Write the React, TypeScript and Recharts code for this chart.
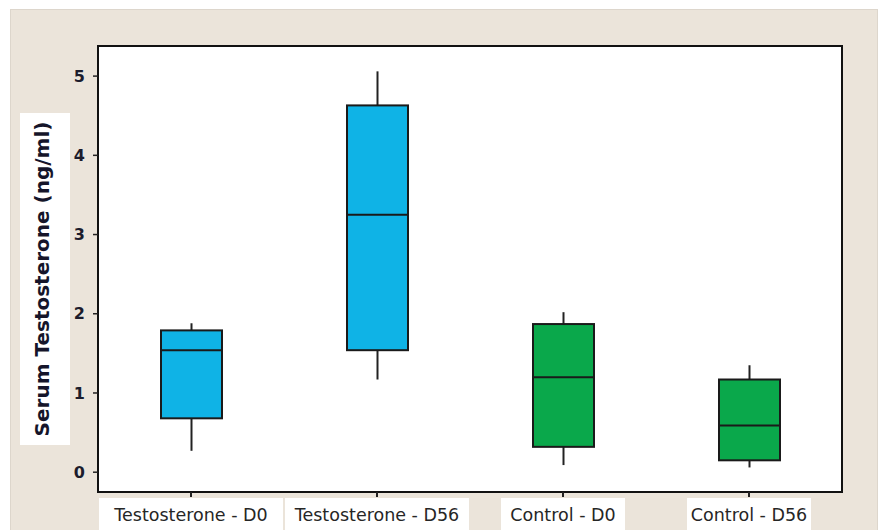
import React from 'react';
import { ComposedChart, Bar, XAxis, YAxis, CartesianGrid, ReferenceArea } from 'recharts';

const groups = ['Testosterone - D0', 'Testosterone - D56', 'Control - D0', 'Control - D56'];
const whiskerLow = [0.27, 1.17, 0.09, 0.06];
const q1 = [0.68, 1.54, 0.32, 0.15];
const median = [1.54, 3.25, 1.2, 0.59];
const q3 = [1.79, 4.63, 1.87, 1.17];
const whiskerHigh = [1.88, 5.06, 2.02, 1.35];
const boxColors = ['#0fb3e6', '#0fb3e6', '#0aa84b', '#0aa84b'];
const yTicks = [0, 1, 2, 3, 4, 5];

const data = groups.map((name, i) => ({
  name,
  lo: whiskerLow[i],
  q1: q1[i],
  med: median[i],
  q3: q3[i],
  hi: whiskerHigh[i],
  box: [q1[i], q3[i]],
  color: boxColors[i],
}));

const font = '"DejaVu Sans", Verdana, sans-serif';

// range bar gives the q1..q3 pixels; whiskers and median follow from the same scale
const BoxShape = (props: any) => {
  const { x, y, width, height, payload } = props;
  const k = height / (payload.q3 - payload.q1);
  const py = (v: number) => y + (payload.q3 - v) * k;
  const cx = x + width / 2;
  return (
    <g>
      <line x1={cx} x2={cx} y1={py(payload.hi)} y2={y} stroke="#222" strokeWidth={2} />
      <line x1={cx} x2={cx} y1={y + height} y2={py(payload.lo)} stroke="#222" strokeWidth={2} />
      <rect x={x} y={y} width={width} height={height} fill={payload.color} stroke="#1a1a1a" strokeWidth={2} />
      <line x1={x} x2={x + width} y1={py(payload.med)} y2={py(payload.med)} stroke="#1a1a1a" strokeWidth={2} />
    </g>
  );
};

const XTick = (props: any) => {
  const { x, y, payload } = props;
  const w = payload.value.length > 15 ? 184 : 124;
  return (
    <g>
      <rect x={x - w / 2} y={y - 1} width={w} height={40} fill="#fff" />
      <text x={x} y={y + 22} textAnchor="middle" fontFamily={font} fontSize={17.5} fill="#262626">
        {payload.value}
      </text>
    </g>
  );
};

export default function App() {
  return (
    <div style={{ position: 'absolute', left: 0, top: 0, width: 882, height: 530, background: '#fff', overflow: 'hidden' }}>
      <div style={{ position: 'absolute', left: 10, top: 9, width: 866, height: 530, background: '#ebe4da', borderTop: '1px solid #ddd6cc', borderLeft: '1px solid #ddd6cc', borderRight: '1px solid #ddd6cc' }} />
      <div style={{ position: 'absolute', left: 0, top: 0 }}>
        <ComposedChart width={882} height={530} data={data} margin={{ top: 46, right: 40, bottom: 0, left: 38 }}>
          <CartesianGrid horizontal={false} vertical={false} fill="#fff" />
          <XAxis
            dataKey="name"
            height={38}
            axisLine={false}
            tickLine={{ stroke: '#222', strokeWidth: 2 }}
            tickSize={5}
            tickMargin={2}
            tick={<XTick />}
            interval={0}
          />
          <YAxis
            width={60}
            domain={[-0.25, 5.38]}
            ticks={yTicks}
            axisLine={false}
            tickLine={{ stroke: '#222', strokeWidth: 1.5 }}
            tickSize={5}
            tickMargin={8}
            tick={{ fontFamily: font, fontSize: 16, fontWeight: 'bold', fill: '#1c1c2c' }}
          />
          <Bar dataKey="box" barSize={61} shape={<BoxShape />} isAnimationActive={false} />
          <ReferenceArea y1={-0.25} y2={5.38} fill="none" stroke="#111" strokeWidth={2} ifOverflow="visible" />
        </ComposedChart>
      </div>
      <div style={{ position: 'absolute', left: 20, top: 113, width: 50, height: 332, background: '#fff' }}>
        <div
          style={{
            position: 'absolute',
            left: 22,
            top: 166,
            transform: 'translate(-50%, -50%) rotate(-90deg)',
            whiteSpace: 'nowrap',
            fontFamily: font,
            fontWeight: 'bold',
            fontSize: 20,
            color: '#15152a',
          }}
        >
          Serum Testosterone (ng/ml)
        </div>
      </div>
    </div>
  );
}
